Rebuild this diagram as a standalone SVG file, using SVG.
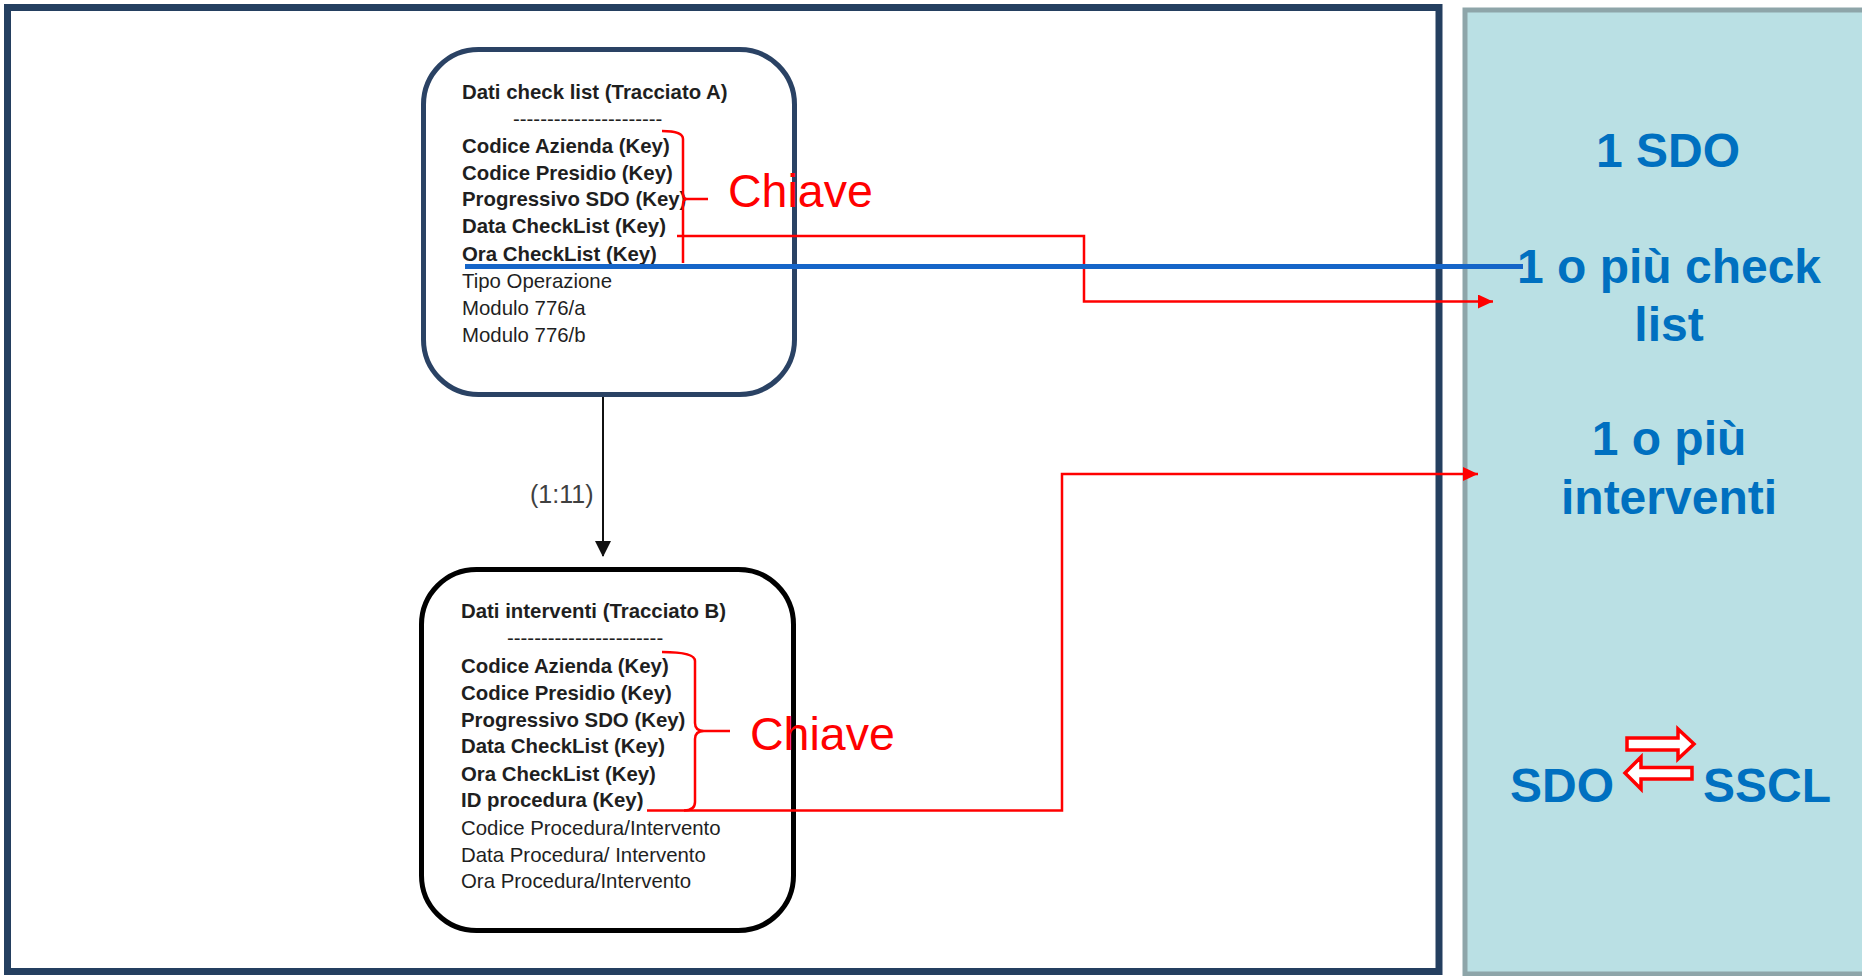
<svg xmlns="http://www.w3.org/2000/svg" width="1862" height="976" viewBox="0 0 1862 976">
<style>
  .t { font-family: "Liberation Sans", Arial, sans-serif; font-size: 20.4px; fill: #1f1f1f; }
  .b { font-weight: bold; }
  .key { font-family: "Liberation Sans", Arial, sans-serif; font-size: 46.5px; fill: #ff0000; }
  .big { font-family: "Liberation Sans", Arial, sans-serif; font-size: 48px; font-weight: bold; fill: #0070c0; }
  .red { fill: none; stroke: #ff0000; stroke-width: 2.5; }
</style>
<defs>
  <marker id="redArrow" markerUnits="userSpaceOnUse" markerWidth="16" markerHeight="14" refX="15" refY="7" orient="auto">
    <polygon points="0,0 15,7 0,14" fill="#ff0000"/>
  </marker>
  <marker id="blackArrow" markerUnits="userSpaceOnUse" markerWidth="16" markerHeight="16" refX="8" refY="15" orient="0">
    <polygon points="0,0 16,0 8,16" fill="#111"/>
  </marker>
</defs>
<rect x="0" y="0" width="1862" height="976" fill="#ffffff"/>
<g id="left-panel">
  <rect x="7.5" y="7.5" width="1431.5" height="964" fill="#ffffff" stroke="#243f60" stroke-width="7"/>
</g>
<g id="right-panel">
  <rect x="1465" y="10" width="420" height="964" fill="#bae0e4" stroke="#8ea5a9" stroke-width="5"/>
</g>
<g id="node-tracciato-a">
  <rect x="423.5" y="49.5" width="371" height="345" rx="55" ry="55" fill="#ffffff" stroke="#2a4264" stroke-width="5"/>
  <text class="t b" x="462" y="99">Dati check list (Tracciato A)</text>
  <text class="t" x="513" y="126">----------------------</text>
  <text class="t b" x="462" y="152.7">Codice Azienda (Key)</text>
  <text class="t b" x="462" y="179.5">Codice Presidio (Key)</text>
  <text class="t b" x="462" y="206.3">Progressivo SDO (Key)</text>
  <text class="t b" x="462" y="233.1">Data CheckList (Key)</text>
  <text class="t b" x="462" y="260.5">Ora CheckList (Key)</text>
  <text class="t" x="462" y="287.5">Tipo Operazione</text>
  <text class="t" x="462" y="314.5">Modulo 776/a</text>
  <text class="t" x="462" y="341.5">Modulo 776/b</text>
</g>
<g id="node-tracciato-b">
  <rect x="421.5" y="569.5" width="372" height="361" rx="55" ry="55" fill="#ffffff" stroke="#000000" stroke-width="5"/>
  <text class="t b" x="461" y="618.3">Dati interventi (Tracciato B)</text>
  <text class="t" x="507" y="645">-----------------------</text>
  <text class="t b" x="461" y="673.3">Codice Azienda (Key)</text>
  <text class="t b" x="461" y="700">Codice Presidio (Key)</text>
  <text class="t b" x="461" y="726.7">Progressivo SDO (Key)</text>
  <text class="t b" x="461" y="753.3">Data CheckList (Key)</text>
  <text class="t b" x="461" y="780.5">Ora CheckList (Key)</text>
  <text class="t b" x="461" y="807.3">ID procedura (Key)</text>
  <text class="t" x="461" y="835">Codice Procedura/Intervento</text>
  <text class="t" x="461" y="861.7">Data Procedura/ Intervento</text>
  <text class="t" x="461" y="888.3">Ora Procedura/Intervento</text>
</g>
<g id="braces">
  <path class="red" d="M662,131 Q683,131 683,139 V193 Q683,199 687,199 H708 M687,199 Q683,199 683,205 V263"/>
  <path class="red" d="M662,652 Q695,652 695,661 V723 Q695,731 704,731 H730 M704,731 Q695,731 695,739 V802 Q695,810.5 684,810.5"/>
  <text class="key" x="728" y="206.7">Chiave</text>
  <text class="key" x="750" y="750">Chiave</text>
</g>
<g id="connectors">
  <line x1="603" y1="397" x2="603" y2="556" stroke="#111" stroke-width="2" marker-end="url(#blackArrow)"/>
  <text x="530" y="503" font-family="Liberation Sans, Arial, sans-serif" font-size="25" fill="#404040">(1:11)</text>
  <path class="red" d="M677,236 H1084 V301.5 H1493" marker-end="url(#redArrow)"/>
  <path class="red" d="M647,810.5 H1062 V474 H1478" marker-end="url(#redArrow)"/>
  <line x1="465" y1="266.5" x2="1523" y2="266.5" stroke="#1565c8" stroke-width="5"/>
</g>
<g id="panel-text">
  <text class="big" x="1668" y="167" text-anchor="middle">1 SDO</text>
  <text class="big" x="1669" y="283" text-anchor="middle">1 o più check</text>
  <text class="big" x="1669" y="341" text-anchor="middle">list</text>
  <text class="big" x="1669" y="455" text-anchor="middle">1 o più</text>
  <text class="big" x="1669" y="514" text-anchor="middle">interventi</text>
  <text class="big" x="1510" y="802">SDO</text>
  <text class="big" x="1703" y="802">SSCL</text>
  <path d="M1627,738 H1678 V729 L1694,744 L1678,759 V750 H1627 Z" fill="#ffffff" stroke="#ff0000" stroke-width="3.5"/>
  <path d="M1692,767.5 H1641 V757 L1625,773 L1641,789 V779 H1692 Z" fill="#ffffff" stroke="#ff0000" stroke-width="3.5"/>
</g>
</svg>
